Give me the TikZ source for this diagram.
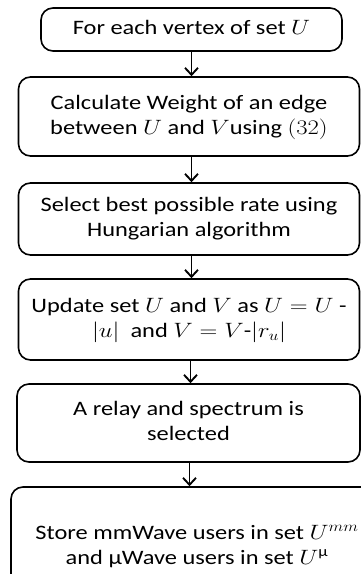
\documentclass[tikz,border=0pt]{standalone}
\usepackage{amsmath}
\usepackage{graphicx}
\usepackage{fontspec}
\setmainfont{Carlito}
\usetikzlibrary{arrows.meta}
\newcommand{\sx}[1]{\scalebox{1.19}[1]{\begin{tabular}{@{}c@{}}#1\end{tabular}}}
\tikzset{
  box/.style={draw=black, line width=1.6pt, rounded corners=12pt, align=center,
    inner sep=0pt, font=\fontsize{20.5}{25}\selectfont},
  flow/.style={line width=1.9pt, -{Straight Barb[length=7pt,width=13pt,line width=1.9pt]}}
}
\begin{document}
\begin{tikzpicture}[x=1pt,y=-1pt]
\useasboundingbox (0,0) rectangle (361,574);
\clip (0,0) rectangle (361,574);
\node[box, minimum width=301pt, minimum height=43pt] (b1) at (191.5,29.5) {\sx{For each vertex of set $U$}};
\node[box, minimum width=341pt, minimum height=79pt] (b2) at (189,116.5) {\sx{Calculate Weight of an edge\\between $U\ \mathrm{and}\ V\mathrm{using}\ (32)$}};
\node[box, minimum width=341pt, minimum height=72pt] (b3) at (189,219) {\sx{Select best possible rate using\\Hungarian algorithm}};
\node[box, minimum width=341pt, minimum height=81pt] (b4) at (189,319.5) {\sx{Update set $U\ \mathrm{and}\ V\ \mathrm{as}\ U=U$ -\\$|u|\ \ \mathrm{and}\ V=V$-$|r_u|$}};
\node[box, minimum width=343pt, minimum height=78pt] (b5) at (188.5,423) {\sx{A relay and spectrum is\\selected}};
\node[box, minimum width=372pt, minimum height=120pt] (b6) at (197,547) {\sx{Store mmWave users in set $U^{mm}$\\and μWave users in set $U^{\text{μ}}$}};
\draw[flow] (b1.south) -- (b1.south |- b2.north);
\draw[flow] (b1.south |- b2.south) -- (b1.south |- b3.north);
\draw[flow] (b1.south |- b3.south) -- (b1.south |- b4.north);
\draw[flow] ([xshift=-1pt]b1.south |- b4.south) -- ([xshift=-1pt]b1.south |- b5.north);
\draw[flow] ([xshift=-2pt]b1.south |- b5.south) -- ([xshift=-2pt]b1.south |- b6.north);
\end{tikzpicture}
\end{document}
